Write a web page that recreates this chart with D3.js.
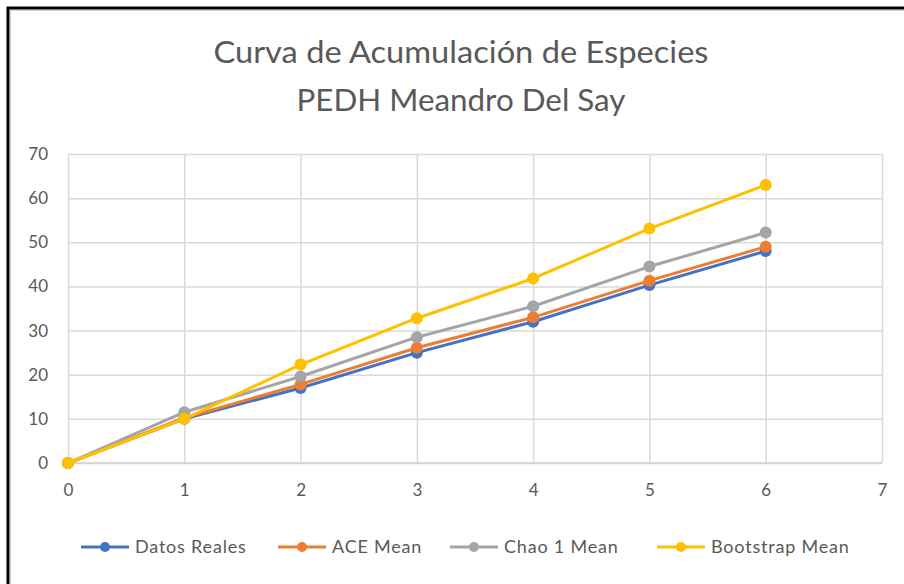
<!DOCTYPE html>
<html>
<head>
<meta charset="utf-8">
<script src="https://cdn.jsdelivr.net/npm/d3@7"></script>
<style>
  html, body { margin: 0; padding: 0; background: #fff; }
  svg { display: block; }
  text { font-family: Lato, "Open Sans", sans-serif; }
</style>
</head>
<body>
<svg id="chart" width="904" height="584"></svg>
<script>
// Muestreos (eje X) y riqueza acumulada por estimador
const samples = [0, 1, 2, 3, 4, 5, 6];
const datosReales = [0, 10, 17, 25, 32, 40.3, 48];
const aceMean = [0, 10.2, 17.8, 26.1, 33, 41.3, 49];
const chao1Mean = [0, 11.5, 19.6, 28.5, 35.5, 44.5, 52.2];
const bootstrapMean = [0, 10, 22.3, 32.8, 41.8, 53.1, 63];
const seriesNames = ["Datos Reales", "ACE Mean", "Chao 1 Mean", "Bootstrap Mean"];
const seriesColors = ["#4472C4", "#ED7D31", "#A5A5A5", "#FFC000"];
const xTicks = [0, 1, 2, 3, 4, 5, 6, 7];
const yTicks = [0, 10, 20, 30, 40, 50, 60, 70];
const titleLines = ["Curva de Acumulación de Especies", "PEDH Meandro Del Say"];

const seriesValues = [datosReales, aceMean, chao1Mean, bootstrapMean];

const svg = d3.select("#chart");

// Marco exterior
svg.append("rect").attr("x", 0).attr("y", 0).attr("width", 904).attr("height", 584).attr("fill", "#fff");
svg.append("path")
  .attr("d", "M8,584 V8 H904")
  .attr("fill", "none").attr("stroke", "#000").attr("stroke-width", 3);
svg.append("path")
  .attr("d", "M10.5,584 V10.5 H904")
  .attr("fill", "none").attr("stroke", "#d0d0d0").attr("stroke-width", 1);

const x = d3.scaleLinear().domain([0, 7]).range([68, 882]);
const y = d3.scaleLinear().domain([0, 70]).range([463, 154]);

// Título (ancho ajustado a cada línea)
const titleWidths = [495, 329];
svg.append("g").selectAll("text").data(titleLines).join("text")
  .attr("x", 461).attr("y", (d, i) => 63 + i * 48)
  .attr("text-anchor", "middle")
  .attr("font-size", 31)
  .attr("textLength", (d, i) => titleWidths[i])
  .attr("lengthAdjust", "spacingAndGlyphs")
  .attr("fill", "#595959")
  .text(d => d);

// Rejilla horizontal
svg.append("g")
  .attr("transform", `translate(${x(0)},0)`)
  .call(d3.axisLeft(y).tickValues(yTicks).tickSize(-(x(7) - x(0))).tickFormat(d3.format("d")))
  .call(g => g.select(".domain").remove())
  .call(g => g.selectAll(".tick line").attr("stroke", "#d9d9d9").attr("stroke-width", 1.5))
  .call(g => g.selectAll(".tick text").attr("x", -20).attr("fill", "#595959").attr("font-size", 17));

// Rejilla vertical y etiquetas del eje X
svg.append("g")
  .attr("transform", `translate(0,${y(0)})`)
  .call(d3.axisBottom(x).tickValues(xTicks).tickSize(-(y(0) - y(70))).tickFormat(d3.format("d")))
  .call(g => g.select(".domain").remove())
  .call(g => g.selectAll(".tick line").attr("stroke", "#d9d9d9").attr("stroke-width", 1.5))
  .call(g => g.selectAll(".tick text").attr("y", 21).attr("fill", "#595959").attr("font-size", 17));

// Eje X
svg.append("line")
  .attr("x1", x(0)).attr("x2", x(7)).attr("y1", y(0)).attr("y2", y(0))
  .attr("stroke", "#d0d0d0").attr("stroke-width", 1.5);

// Series
const line = d3.line().x((d, i) => x(samples[i])).y(d => y(d));
seriesValues.forEach((vals, si) => {
  const g = svg.append("g");
  g.append("path").datum(vals)
    .attr("d", line)
    .attr("fill", "none")
    .attr("stroke", seriesColors[si])
    .attr("stroke-width", 3)
    .attr("stroke-linejoin", "round");
  g.selectAll("circle").data(vals).join("circle")
    .attr("cx", (d, i) => x(samples[i]))
    .attr("cy", d => y(d))
    .attr("r", 6)
    .attr("fill", seriesColors[si]);
});

// Leyenda
const legendX = [81, 278, 450, 657];
const legend = svg.append("g");
seriesNames.forEach((name, i) => {
  const lg = legend.append("g").attr("transform", `translate(${legendX[i]},547)`);
  lg.append("line").attr("x1", 0).attr("x2", 48).attr("y1", 0).attr("y2", 0)
    .attr("stroke", seriesColors[i]).attr("stroke-width", 3);
  lg.append("circle").attr("cx", 24).attr("cy", 0).attr("r", 5).attr("fill", seriesColors[i]);
  lg.append("text").attr("x", 54).attr("y", 6)
    .attr("font-size", 18).attr("letter-spacing", 0.8)
    .attr("fill", "#595959").text(name);
});
</script>
</body>
</html>
